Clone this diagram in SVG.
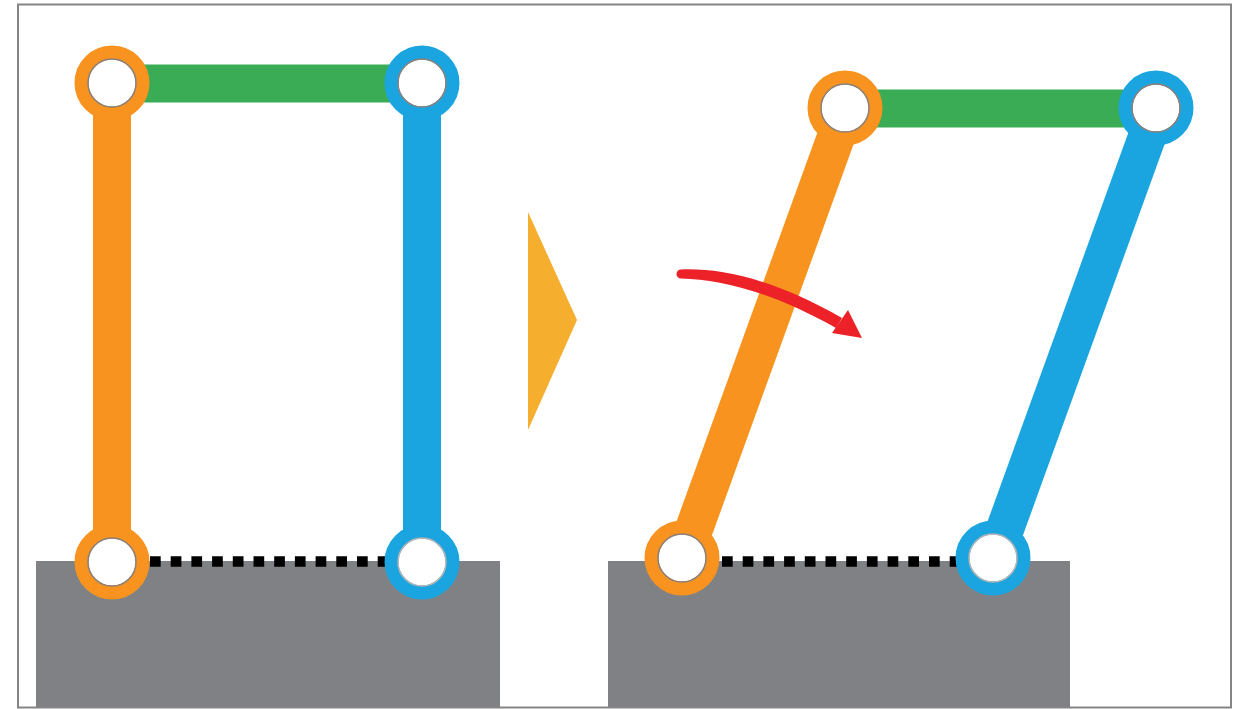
<svg xmlns="http://www.w3.org/2000/svg" width="1239" height="709" viewBox="0 0 1239 709">
<defs><style>
.o{stroke:#f7931e}.b{stroke:#1ba5e0}.g{stroke:#39ac55}
.bar{stroke-width:38;fill:none}
.jo,.jb{fill:#fff;stroke-width:14}
.inner{fill:none;stroke:#8a817c;stroke-width:1.500}
.dot{stroke:#000;stroke-width:10.500;stroke-dasharray:10.700 10;fill:none}
.base{fill:#808184}
</style></defs>
<rect width="1239" height="709" fill="#fff"/>
<rect x="18" y="4.500" width="1213" height="703" fill="none" stroke="#858585" stroke-width="2"/>
<g id="ground-left"><rect class="base" x="36" y="561" width="464" height="146"/></g>
<g id="ground-right"><rect class="base" x="608" y="561" width="462" height="146"/></g>
<g id="connectors">
<path class="dot" d="M150 561.500H386"/>
<path class="dot" d="M722 561.500H957"/>
<path class="bar g" d="M112 83.500H422"/>
<path class="bar o" d="M112 83V562"/>
<path class="bar b" d="M422 83V562"/>
<path class="bar g" d="M845 108.500H1156"/>
<path class="bar o" d="M846.500 108L683.500 558"/>
<path class="bar b" d="M1157.500 108L994.500 558"/>
</g>
<g id="arrow-mid"><polygon points="528,212 577,320 528,430" fill="#f5ae2d"/></g>
<g id="rotation-arrow">
<path d="M681 269.500C720 268 772 278 842 318L836 328C770 291 722 280 681 278.500A4.500 4.500 0 0 1 681 269.500Z" fill="#ed2229"/>
<polygon points="862,338 848,310 832,333" fill="#ed2229"/>
</g>
<g id="joint-a"><circle class="jo o" cx="112" cy="83" r="30.500"/><circle class="inner" cx="112" cy="83" r="24"/></g>
<g id="joint-b"><circle class="jb b" cx="422" cy="83" r="30.500"/><circle class="inner" cx="422" cy="83" r="24"/></g>
<g id="joint-c"><circle class="jo o" cx="112" cy="562" r="30.500"/><circle class="inner" cx="112" cy="562" r="24"/></g>
<g id="joint-d"><circle class="jb b" cx="422" cy="562" r="30.500"/><circle class="inner" cx="422" cy="562" r="24" style="stroke:#b5b5b5"/></g>
<g id="joint-e"><circle class="jo o" cx="845" cy="108" r="30.500"/><circle class="inner" cx="845" cy="108" r="24"/></g>
<g id="joint-f"><circle class="jb b" cx="1156" cy="108" r="30.500"/><circle class="inner" cx="1156" cy="108" r="24"/></g>
<g id="joint-g"><circle class="jo o" cx="682" cy="558" r="30.500"/><circle class="inner" cx="682" cy="558" r="24"/></g>
<g id="joint-h"><circle class="jb b" cx="993" cy="558" r="30.500"/><circle class="inner" cx="993" cy="558" r="24" style="stroke:#b5b5b5"/></g>
</svg>
